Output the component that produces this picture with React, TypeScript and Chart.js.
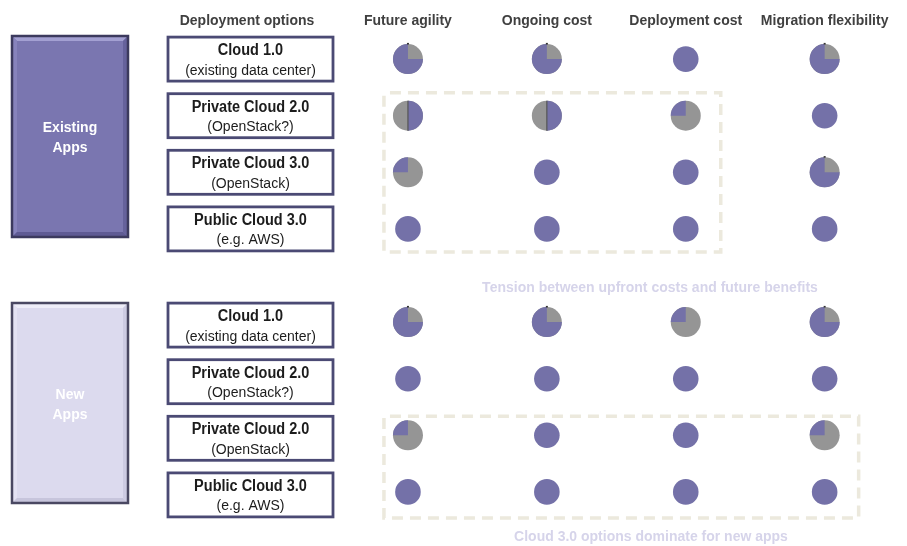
import React, { useEffect, useRef } from "react";
import { Chart, registerables } from "chart.js";

Chart.register(...registerables);

// ---------- data ----------
const criteria = ["Future agility", "Ongoing cost", "Deployment cost", "Migration flexibility"];
const headerTitle = "Deployment options";

const existingTitle = ["Existing", "Apps"];
const existingOptions = ["Cloud 1.0", "Private Cloud 2.0", "Private Cloud 3.0", "Public Cloud 3.0"];
const existingNotes = ["(existing data center)", "(OpenStack?)", "(OpenStack)", "(e.g. AWS)"];

const newTitle = ["New", "Apps"];
const newOptions = ["Cloud 1.0", "Private Cloud 2.0", "Private Cloud 2.0", "Public Cloud 3.0"];
const newNotes = ["(existing data center)", "(OpenStack?)", "(OpenStack)", "(e.g. AWS)"];

// share of each Harvey ball filled in purple (rows follow the option order)
const existingFutureAgility = [0.75, 0.5, 0.25, 1];
const existingOngoingCost = [0.75, 0.5, 1, 1];
const existingDeploymentCost = [1, 0.25, 1, 1];
const existingMigrationFlexibility = [0.75, 1, 0.75, 1];

const newFutureAgility = [0.75, 1, 0.25, 1];
const newOngoingCost = [0.75, 1, 1, 1];
const newDeploymentCost = [0.25, 1, 1, 1];
const newMigrationFlexibility = [0.75, 1, 0.25, 1];

// highlighted blocks: [firstRow, lastRow, firstCol, lastCol]
const existingHighlight = [1, 3, 0, 2];
const newHighlight = [2, 3, 0, 3];
const existingCaption = "Tension between upfront costs and future benefits";
const newCaption = "Cloud 3.0 options dominate for new apps";

// ---------- styles ----------
const FONT = '"Liberation Sans", Arial, Helvetica, sans-serif';
const PURPLE = "#7471a8";
const GRAY = "#959595";
const CAPTION = "#d6d4ea";
const DASH = "#ece9dd";
const LABEL_BORDER = "#4b4a74";

type Section = {
  top: number;
  height: number;
  padding: { top: number; bottom: number; left: number; right: number };
  title: string[];
  options: string[];
  notes: string[];
  values: number[][];
  highlight: number[];
  hlPad: { l: number; r: number; t: number; b: number };
  box: { y0: number; y1: number; fill: string; light: string; side: string; dark: string; darker: string; border: string };
  labelShift: number;
  header: boolean;
  captions: { text: string; x: number; y: number }[];
};

const sections: Section[] = [
  {
    top: 0,
    height: 270,
    padding: { top: 30.8, bottom: 12.8, left: 338.5, right: 12.9 },
    title: existingTitle,
    options: existingOptions,
    notes: existingNotes,
    values: [existingFutureAgility, existingOngoingCost, existingDeploymentCost, existingMigrationFlexibility],
    highlight: existingHighlight,
    hlPad: { l: 24, r: 35, t: 23, b: 23 },
    box: { y0: 36, y1: 237, fill: "#7a76b0", light: "#a3a0d2", side: "#8783bc", dark: "#66629c", darker: "#5f5b94", border: "#3c3a5e" },
    labelShift: 0,
    header: true,
    captions: [],
  },
  {
    top: 270,
    height: 276,
    padding: { top: 23.8, bottom: 25.8, left: 338.5, right: 12.9 },
    title: newTitle,
    options: newOptions,
    notes: newNotes,
    values: [newFutureAgility, newOngoingCost, newDeploymentCost, newMigrationFlexibility],
    highlight: newHighlight,
    hlPad: { l: 24, r: 34, t: 19, b: 26 },
    box: { y0: 33, y1: 233, fill: "#dcdaee", light: "#eeedf8", side: "#e4e2f3", dark: "#cdcbe2", darker: "#c7c5dc", border: "#4a4862" },
    labelShift: 3,
    header: false,
    captions: [
      { text: existingCaption, x: 650, y: 21.5 },
      { text: newCaption, x: 651, y: 270.5 },
    ],
  },
];

// bold text drawn a little taller and horizontally condensed, like the original narrow face
function condensedText(ctx: CanvasRenderingContext2D, text: string, x: number, y: number, size: number) {
  ctx.font = `bold ${size}px ${FONT}`;
  const w = ctx.measureText(text).width;
  ctx.font = `bold ${size * 1.1}px ${FONT}`;
  ctx.fillText(text, x, y, w);
}

function poly(ctx: CanvasRenderingContext2D, pts: number[][], color: string) {
  ctx.beginPath();
  ctx.moveTo(pts[0][0], pts[0][1]);
  for (let i = 1; i < pts.length; i++) ctx.lineTo(pts[i][0], pts[i][1]);
  ctx.closePath();
  ctx.fillStyle = color;
  ctx.fill();
}

function drawBevelBox(ctx: CanvasRenderingContext2D, x: number, y: number, w: number, h: number, s: Section["box"]) {
  const b = 5;
  ctx.fillStyle = s.fill;
  ctx.fillRect(x, y, w, h);
  poly(ctx, [[x, y], [x + w, y], [x + w - b, y + b], [x + b, y + b]], s.light);
  poly(ctx, [[x, y], [x + b, y + b], [x + b, y + h - b], [x, y + h]], s.side);
  poly(ctx, [[x + w, y], [x + w, y + h], [x + w - b, y + h - b], [x + w - b, y + b]], s.dark);
  poly(ctx, [[x, y + h], [x + w, y + h], [x + w - b, y + h - b], [x + b, y + h - b]], s.darker);
  ctx.strokeStyle = s.border;
  ctx.lineWidth = 2.5;
  ctx.strokeRect(x, y, w, h);
}

function drawBall(ctx: CanvasRenderingContext2D, x: number, y: number, f: number) {
  const r = f >= 1 ? 12.8 : 15;
  ctx.beginPath();
  ctx.arc(x, y, r, 0, Math.PI * 2);
  ctx.fillStyle = f >= 1 ? PURPLE : GRAY;
  ctx.fill();
  if (f <= 0 || f >= 1) return;
  let start: number;
  let end: number;
  if (f === 0.5) {
    // half balls show the right half in purple
    start = -Math.PI / 2;
    end = Math.PI / 2;
  } else {
    // purple wedge sweeps clockwise and ends at 12 o'clock
    end = Math.PI * 1.5;
    start = end - f * Math.PI * 2;
  }
  ctx.beginPath();
  ctx.moveTo(x, y);
  ctx.arc(x, y, r, start, end);
  ctx.closePath();
  ctx.fillStyle = PURPLE;
  ctx.fill();
  if (f === 0.5) {
    ctx.beginPath();
    ctx.moveTo(x, y - r);
    ctx.lineTo(x, y + r);
    ctx.strokeStyle = "#555555";
    ctx.lineWidth = 1.2;
    ctx.stroke();
  } else if (f > 0.5) {
    ctx.fillStyle = "#333333";
    ctx.fillRect(x - 1, y - r - 1.2, 2, 1.6);
  }
}

function makePlugin(sec: Section) {
  return {
    id: "harveyMatrix",
    beforeDatasetsDraw(chart: any) {
      const ctx: CanvasRenderingContext2D = chart.ctx;
      const xs = chart.scales.x;
      const ys = chart.scales.y;
      ctx.save();
      ctx.textAlign = "center";
      ctx.textBaseline = "alphabetic";

      // headers
      if (sec.header) {
        ctx.fillStyle = "#404040";
        condensedText(ctx, headerTitle, 247, 25, 14);
        criteria.forEach((c, i) => condensedText(ctx, c, xs.getPixelForValue(i), 25, 14));
      }

      // big section box
      const bx = 12;
      const bw = 116;
      const by = sec.box.y0;
      const bh = sec.box.y1 - sec.box.y0;
      drawBevelBox(ctx, bx, by, bw, bh, sec.box);
      ctx.fillStyle = "#ffffff";
      const bc = by + bh / 2;
      condensedText(ctx, sec.title[0], bx + bw / 2, bc - 4.5, 14);
      condensedText(ctx, sec.title[1], bx + bw / 2, bc + 15.5, 14);

      // option label boxes
      sec.options.forEach((opt, i) => {
        const cy = ys.getPixelForValue(i) + sec.labelShift;
        const x0 = 168;
        const w = 165;
        const h = 44;
        ctx.fillStyle = "#ffffff";
        ctx.fillRect(x0, cy - h / 2, w, h);
        ctx.strokeStyle = LABEL_BORDER;
        ctx.lineWidth = 2.8;
        ctx.strokeRect(x0, cy - h / 2, w, h);
        ctx.fillStyle = "#1c1c1c";
        condensedText(ctx, opt, x0 + w / 2, cy - 4, 14.5);
        ctx.font = `14px ${FONT}`;
        ctx.fillText(sec.notes[i], x0 + w / 2, cy + 15.5);
      });

      // dashed highlight block
      const [r0, r1, c0, c1] = sec.highlight;
      const left = xs.getPixelForValue(c0) - sec.hlPad.l;
      const right = xs.getPixelForValue(c1) + sec.hlPad.r;
      const top = ys.getPixelForValue(r0) - sec.hlPad.t;
      const bottom = ys.getPixelForValue(r1) + sec.hlPad.b;
      ctx.setLineDash([11, 7]);
      ctx.lineDashOffset = -6;
      ctx.strokeStyle = DASH;
      ctx.lineWidth = 3.5;
      ctx.strokeRect(left, top, right - left, bottom - top);
      ctx.setLineDash([]);

      // captions
      ctx.fillStyle = CAPTION;
      sec.captions.forEach((c) => condensedText(ctx, c.text, c.x, c.y, 14));
      ctx.restore();
    },
    afterDatasetsDraw(chart: any) {
      const ctx: CanvasRenderingContext2D = chart.ctx;
      ctx.save();
      chart.data.datasets.forEach((ds: any, di: number) => {
        const meta = chart.getDatasetMeta(di);
        meta.data.forEach((el: any, j: number) => {
          drawBall(ctx, el.x, el.y, ds.data[j].v);
        });
      });
      ctx.restore();
    },
  };
}

function SectionChart({ sec }: { sec: Section }) {
  const ref = useRef<HTMLCanvasElement | null>(null);
  useEffect(() => {
    if (!ref.current) return;
    const chart = new Chart(ref.current, {
      type: "scatter",
      data: {
        datasets: criteria.map((c, ci) => ({
          label: c,
          data: sec.values[ci].map((v, ri) => ({ x: ci, y: ri, v })),
          pointRadius: 0,
          pointHoverRadius: 0,
          pointBorderWidth: 0,
          pointBackgroundColor: "rgba(0,0,0,0)",
        })),
      } as any,
      options: {
        responsive: false,
        animation: false,
        events: [],
        devicePixelRatio: 1,
        layout: { padding: sec.padding, autoPadding: false } as any,
        plugins: { legend: { display: false }, tooltip: { enabled: false } },
        scales: {
          x: { type: "linear", min: -0.5, max: 3.5, display: false },
          y: { type: "linear", min: -0.5, max: 3.5, reverse: true, display: false },
        },
      },
      plugins: [makePlugin(sec)],
    });
    return () => chart.destroy();
  }, [sec]);
  return (
    <canvas
      ref={ref}
      width={907}
      height={sec.height}
      style={{ position: "absolute", left: 0, top: sec.top, width: 907, height: sec.height, display: "block" }}
    />
  );
}

export default function App() {
  return (
    <div style={{ position: "absolute", left: 0, top: 0, width: 907, height: 546, background: "#ffffff" }}>
      {sections.map((s, i) => (
        <SectionChart key={i} sec={s} />
      ))}
    </div>
  );
}
